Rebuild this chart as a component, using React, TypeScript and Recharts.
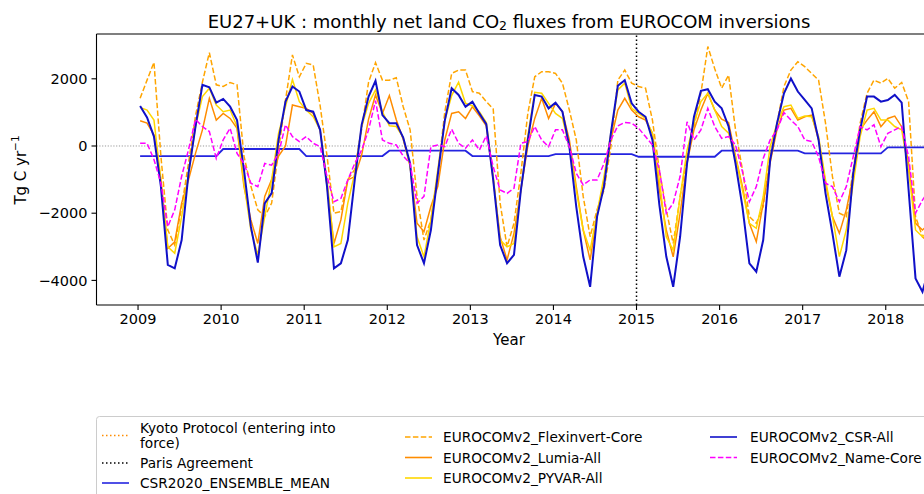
import React from 'react';
import { LineChart, Line, XAxis, YAxis, ReferenceLine } from 'recharts';

// ---- data (monthly, Jan 2009 -> Jul 2018), Tg C / yr ----
const START_YEAR = 2009;
const X_TICKS = [2009, 2010, 2011, 2012, 2013, 2014, 2015, 2016, 2017, 2018];
const Y_TICKS = [-4000, -2000, 0, 2000];
const PARIS_AGREEMENT_YEAR = 2015.0;

// CSR2020 ensemble mean: one value per year
const ENSEMBLE_ANNUAL = [-300, -90, -300, -140, -300, -240, -320, -140, -220, -40];

const FLEXINVERT_CORE = [
  1420, 1960, 2490, -300, -2500, -2950, -1800, -500, 900, 1900, 2780, 1820,
  1770, 1890, 1820, -300, -1200, -1900, -2100, -1700, -120, 1370, 2710, 2060,
  2460, 2410, 1200, -300, -2000, -1950, -1000, -700, 500, 1900, 2480, 1960,
  1960, 2030, 1170, 480, -1500, -2800, -2200, -800, 1000, 2160, 2260, 2260,
  1620, 1570, 1320, 1100, -1700, -3000, -2300, -800, 970, 2060, 2210, 2210,
  2160, 1870, 1070, 180, -1500, -2700, -1900, -1310, -20, 1960, 2260, 1870,
  1770, 1720, 770, -710, -1900, -2900, -1500, -320, 580, 1570, 2960, 2300,
  1720, 2110, 480, -710, -2100, -2300, -1800, -320, 680, 1770, 2260, 2510,
  2360, 2160, 1960, 680, -910, -2000, -2100, -710, 680, 1570, 1960, 1870,
  2010, 1720, 1890, 1320, -2100, -2700, -2900,
];

const LUMIA_ALL = [
  750, 680, 330, -1000, -3050, -2850, -1700, -1000, -220, 480, 1420, 770,
  970, 820, 525, -1210, -2200, -2900, -1500, -1000, -300, 0, 1220, 1170,
  1120, 970, 480, -1200, -2900, -2200, -1010, -910, -270, 800, 1520, 970,
  1500, 780, 200, -600, -2300, -2550, -1800, -1200, 180, 970, 1020, 820,
  1170, 900, 600, -1000, -2700, -3390, -2600, -1300, 0, 820, 1420, 820,
  1270, 1020, 180, -1210, -2500, -3390, -2100, -1010, 180, 1070, 1420, 1070,
  870, 770, 380, -1310, -2500, -3300, -2000, -500, 480, 1070, 1570, 1070,
  800, 700, -300, -1200, -2300, -2850, -1700, -500, 500, 1070, 1120, 770,
  870, 920, 180, -1110, -2100, -2600, -1900, -910, 480, 770, 1020, 575,
  820, 890, 575, -520, -2300, -2500, -2300,
];

const PYVAR_ALL = [
  1150, 1070, 770, -1000, -3000, -3190, -2100, -800, 580, 1470, 1720, 1220,
  1020, 1070, 580, -1110, -2500, -3240, -2100, -1000, 380, 1170, 1980, 1320,
  1070, 870, 480, -1010, -3000, -2900, -1700, -810, 580, 1270, 1670, 1020,
  600, 580, 250, -600, -2700, -3300, -2200, -700, 750, 1500, 1900, 1270,
  1200, 1020, 700, -900, -2800, -3000, -2900, -1300, 300, 1600, 1570, 1270,
  970, 820, -20, -1310, -2500, -3100, -2000, -910, 380, 1670, 1870, 1120,
  970, 820, 380, -1010, -2700, -3100, -1510, -120, 680, 1320, 1570, 1070,
  580, 380, -320, -1310, -2300, -2450, -1510, -20, 680, 1170, 1220, 820,
  890, 870, 280, -1010, -2100, -3290, -2500, -1110, 280, 1070, 1120, 770,
  770, 580, 480, -710, -2500, -2700, -2500,
];

const CSR_ALL = [
  1190, 850, 280, -1200, -3540, -3640, -2800, -800, 580, 1820, 1750, 1290,
  1400, 1170, 770, -710, -2400, -3470, -1710, -1400, 180, 1320, 1770, 1620,
  1070, 1020, 480, -1210, -3640, -3490, -2800, -1010, 630, 1470, 1940, 920,
  680, 680, 250, -520, -2950, -3490, -2500, -850, 750, 1720, 1520, 1170,
  1320, 970, 650, -1010, -2950, -3490, -3240, -1310, 180, 1520, 1470, 1120,
  1290, 1020, -20, -1810, -3290, -4190, -2100, -1210, 380, 1790, 1960, 1270,
  1020, 870, 180, -1750, -3290, -4190, -2700, -520, 870, 1640, 1690, 1320,
  1120, 580, -520, -1810, -3490, -3740, -2800, -420, 680, 1570, 2010, 1620,
  1370, 1120, 180, -1410, -2600, -3890, -3100, -810, 480, 1470, 1470, 1320,
  1370, 1520, 1290, -1310, -3940, -4340, -3600,
];

const NAME_CORE = [
  80, 80, -400, -1110, -2400, -1900, -900, -100, 790, 580, 430, -370,
  180, 530, -220, -520, -1110, -1210, -520, -570, -220, 630, 280, 130,
  280, 80, -20, -910, -1660, -1560, -1010, -520, -120, 480, 1350, 180,
  80, 30, -300, -520, -1700, -1500, -20, 30, -20, 500, 80, -70,
  180, -120, 300, -620, -1310, -1410, -1260, 80, 130, 580, 180, -20,
  480, 480, -20, -810, -1160, -1010, -1010, -520, 180, 600, 700, 680,
  530, 280, 30, -710, -2000, -1700, -900, 720, 180, 480, 1120, 580,
  230, 280, 30, -760, -1660, -1210, -370, 180, 480, 990, 770, 580,
  180, 130, -320, -1110, -1210, -1660, -1210, -320, 580, 480, 630, -20,
  380, 480, 580, -320, -2000, -1610, -1300,
];

const TITLE_A = 'EU27+UK : monthly net land CO';
const TITLE_SUB = '2';
const TITLE_B = ' fluxes from EUROCOM inversions';
const X_LABEL = 'Year';

const data = CSR_ALL.map((v, i) => ({
  t: START_YEAR + (i + 0.3) / 12,
  ensemble: ENSEMBLE_ANNUAL[Math.floor(i / 12)],
  flex: FLEXINVERT_CORE[i],
  lumia: LUMIA_ALL[i],
  pyvar: PYVAR_ALL[i],
  csr: v,
  name: NAME_CORE[i],
}));

const FONT = 'DejaVu Sans, sans-serif';
const Y_MIN = -4732;
const Y_MAX = 3333;

const fmtY = (v: number) => (v < 0 ? '\u2212' + Math.abs(v) : String(v));

const C = {
  kyoto: '#ff8c00',
  ensemble: '#2424e0',
  flex: '#ffa500',
  lumia: '#ff8c00',
  pyvar: '#ffd700',
  csr: '#1010c8',
  name: '#ff00ff',
};

const legendCol1 = [
  { lines: ['Kyoto Protocol (entering into', 'force)'], color: C.kyoto, dash: '1.5 2.5', y: 428 },
  { lines: ['Paris Agreement'], color: '#000000', dash: '1.5 2.5', y: 463 },
  { lines: ['CSR2020_ENSEMBLE_MEAN'], color: C.ensemble, dash: undefined, y: 483 },
];
const legendCol2 = [
  { lines: ['EUROCOMv2_Flexinvert-Core'], color: C.flex, dash: '5.5 2.4', y: 437 },
  { lines: ['EUROCOMv2_Lumia-All'], color: C.lumia, dash: undefined, y: 457.5 },
  { lines: ['EUROCOMv2_PYVAR-All'], color: C.pyvar, dash: undefined, y: 478 },
];
const legendCol3 = [
  { lines: ['EUROCOMv2_CSR-All'], color: C.csr, dash: undefined, y: 437 },
  { lines: ['EUROCOMv2_Name-Core'], color: C.name, dash: '5.5 2.4', y: 457.5 },
];

function LegendColumn({ items, hx, tx }: { items: any[]; hx: number; tx: number }) {
  return (
    <g>
      {items.map((it, k) => {
        const lh = 15;
        const hy = it.y + ((it.lines.length - 1) * lh) / 2;
        return (
          <g key={k}>
            <line x1={hx} x2={hx + 27} y1={hy} y2={hy} stroke={it.color} strokeWidth={1.6} strokeDasharray={it.dash} />
            {it.lines.map((ln: string, j: number) => (
              <text key={j} x={tx} y={it.y + j * lh} dominantBaseline="central" fontFamily={FONT} fontSize={13.7} fill="#000">
                {ln}
              </text>
            ))}
          </g>
        );
      })}
    </g>
  );
}

export default function App() {
  return (
    <div style={{ position: 'fixed', left: 0, top: 0, width: 924, height: 494, overflow: 'hidden', background: '#fff' }}>
      <LineChart width={940} height={494} data={data} margin={{ top: 34, right: 4.4, left: 0, bottom: 159 }}>
        <XAxis
          dataKey="t"
          type="number"
          domain={[2008.5, 2018.6]}
          allowDataOverflow
          ticks={X_TICKS}
          tickSize={5}
          tickMargin={4}
          height={30}
          axisLine={{ stroke: '#000', strokeWidth: 1.1 }}
          tickLine={{ stroke: '#000', strokeWidth: 1.1 }}
          tick={{ fill: '#000', fontSize: 14.5, fontFamily: FONT }}
        />
        <YAxis
          type="number"
          domain={[Y_MIN, Y_MAX]}
          allowDataOverflow
          ticks={Y_TICKS}
          width={96.5}
          tickSize={5}
          tickMargin={4}
          tickFormatter={fmtY}
          axisLine={{ stroke: '#000', strokeWidth: 1.1 }}
          tickLine={{ stroke: '#000', strokeWidth: 1.1 }}
          tick={{ fill: '#000', fontSize: 14.5, fontFamily: FONT }}
        />
        <ReferenceLine y={Y_MAX} stroke="#000" strokeWidth={1.1} />
        <ReferenceLine y={0} stroke="#999" strokeWidth={1} strokeDasharray="1.2 1.6" />
        <ReferenceLine x={PARIS_AGREEMENT_YEAR} stroke="#000" strokeWidth={1.5} strokeDasharray="1.5 2.5" />
        <Line type="linear" dataKey="ensemble" stroke={C.ensemble} strokeWidth={1.8} dot={false} isAnimationActive={false} />
        <Line type="linear" dataKey="flex" stroke={C.flex} strokeWidth={1.5} strokeDasharray="5.5 2.4" dot={false} isAnimationActive={false} />
        <Line type="linear" dataKey="lumia" stroke={C.lumia} strokeWidth={1.5} dot={false} isAnimationActive={false} />
        <Line type="linear" dataKey="pyvar" stroke={C.pyvar} strokeWidth={1.5} dot={false} isAnimationActive={false} />
        <Line type="linear" dataKey="csr" stroke={C.csr} strokeWidth={2} dot={false} isAnimationActive={false} />
        <Line type="linear" dataKey="name" stroke={C.name} strokeWidth={1.5} strokeDasharray="5.5 2.4" dot={false} isAnimationActive={false} />
      </LineChart>
      <svg width={924} height={494} style={{ position: 'absolute', left: 0, top: 0, pointerEvents: 'none' }}>
        <text x={509} y={21} textAnchor="middle" dominantBaseline="central" fontFamily={FONT} fontSize={18} fill="#000">
          {TITLE_A}
          <tspan fontSize={12.5} dy={4}>{TITLE_SUB}</tspan>
          <tspan dy={-4}>{TITLE_B}</tspan>
        </text>
        <text x={509} y={340} textAnchor="middle" dominantBaseline="central" fontFamily={FONT} fontSize={15} fill="#000">
          {X_LABEL}
        </text>
        <text x={21} y={170} transform="rotate(-90 21 170)" textAnchor="middle" dominantBaseline="central" fontFamily={FONT} fontSize={15} fill="#000">
          Tg C yr<tspan fontSize={10.5} dy={-6}>{'\u22121'}</tspan>
        </text>
        <rect x={96.5} y={416.5} width={900} height={120} rx={3} fill="#fff" fillOpacity={0.8} stroke="#cccccc" strokeWidth={1} />
        <LegendColumn items={legendCol1} hx={102} tx={140} />
        <LegendColumn items={legendCol2} hx={405} tx={443} />
        <LegendColumn items={legendCol3} hx={710} tx={750} />
      </svg>
    </div>
  );
}
